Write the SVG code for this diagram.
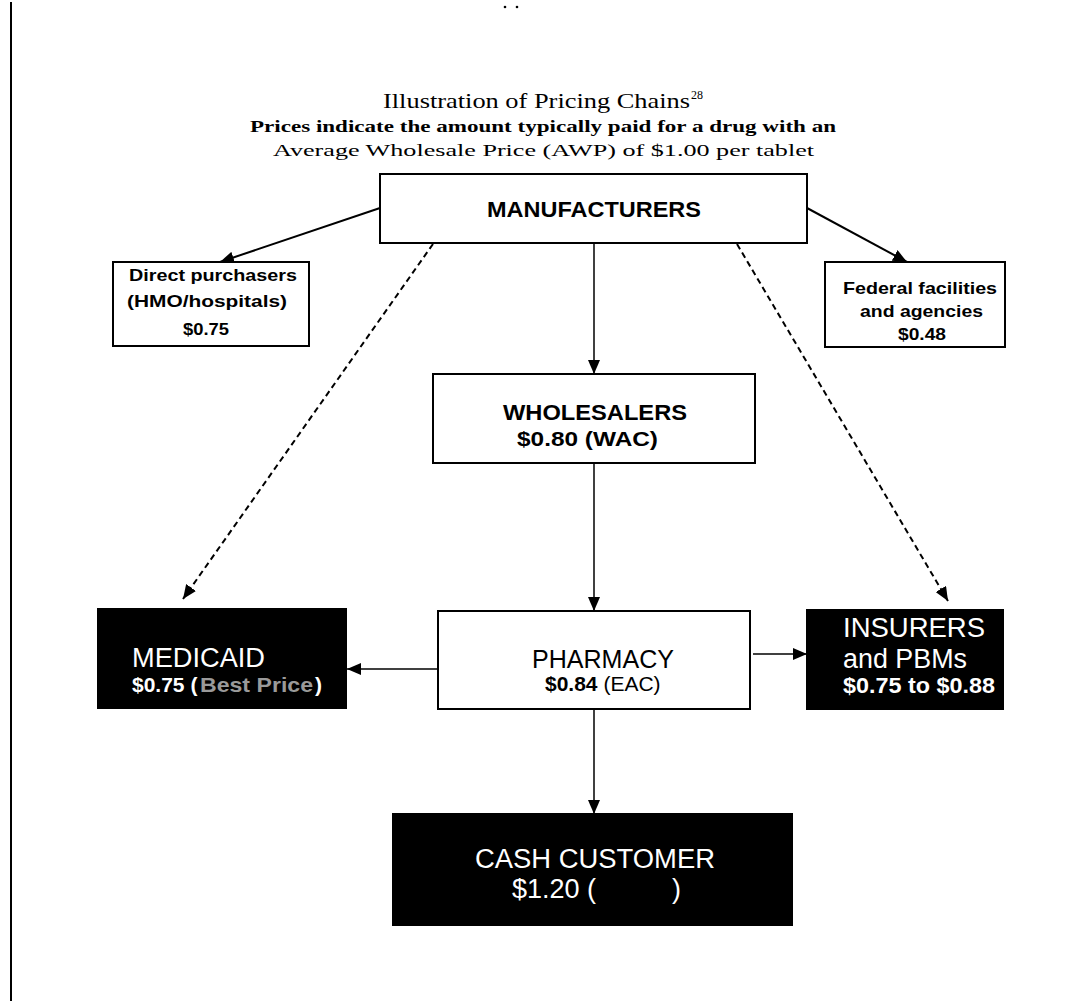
<svg xmlns="http://www.w3.org/2000/svg" width="1086" height="1001" viewBox="0 0 1086 1001">
<defs>
<style>
.box{fill:#fff;stroke:#000;stroke-width:2}
.dark{fill:#000;stroke:#000;stroke-width:2}
.sans{font-family:"Liberation Sans",Arial,sans-serif}
.serif{font-family:"Liberation Serif","DejaVu Serif",serif;fill:#000}
.b{font-weight:bold}
.w{fill:#fff}
.k{fill:#000}
.line{stroke:#000;fill:none}
.dash{stroke:#000;fill:none;stroke-width:2;stroke-dasharray:6 4}
</style>
<marker id="ah" viewBox="0 0 14 12" refX="14" refY="6" markerWidth="14" markerHeight="12" orient="auto" markerUnits="userSpaceOnUse">
<path d="M0,0 L14,6 L0,12 z" fill="#000"/>
</marker>
</defs>
<rect width="1086" height="1001" fill="#fff"/>
<line x1="11" y1="2" x2="11" y2="1001" stroke="#000" stroke-width="2"/>
<circle cx="505" cy="7" r="1.3" fill="#000"/>
<circle cx="517" cy="7" r="1.3" fill="#000"/>

<g id="title">
<text class="serif" x="383" y="108" font-size="22" textLength="307" lengthAdjust="spacingAndGlyphs">Illustration of Pricing Chains</text>
<text class="serif" x="691" y="99" font-size="12">28</text>
<text class="serif b" x="250" y="132" font-size="17" textLength="586" lengthAdjust="spacingAndGlyphs">Prices indicate the amount typically paid for a drug with an</text>
<text class="serif" x="273" y="156" font-size="17" textLength="541" lengthAdjust="spacingAndGlyphs">Average Wholesale Price (AWP) of $1.00 per tablet</text>
</g>

<g id="connectors">
<line class="line" stroke-width="2" x1="380" y1="208" x2="220" y2="262" marker-end="url(#ah)"/>
<line class="line" stroke-width="2" x1="807" y1="208" x2="907" y2="262" marker-end="url(#ah)"/>
<line class="line" stroke-width="1.5" x1="594" y1="243" x2="594" y2="374" marker-end="url(#ah)"/>
<line class="line" stroke-width="1.5" x1="594" y1="463" x2="594" y2="611" marker-end="url(#ah)"/>
<line class="line" stroke-width="1.5" x1="437" y1="669" x2="347" y2="669" marker-end="url(#ah)"/>
<line class="line" stroke-width="1.5" x1="753" y1="654" x2="807" y2="654" marker-end="url(#ah)"/>
<line class="line" stroke-width="1.5" x1="594" y1="709" x2="594" y2="814" marker-end="url(#ah)"/>
<line class="dash" x1="433" y1="244" x2="183" y2="599" marker-end="url(#ah)"/>
<line class="dash" x1="737" y1="244" x2="948" y2="601" marker-end="url(#ah)"/>
</g>

<g id="manufacturers">
<rect class="box" x="380" y="174" width="427" height="69"/>
<text class="sans b" x="487" y="217" font-size="22" textLength="214" lengthAdjust="spacingAndGlyphs">MANUFACTURERS</text>
</g>

<g id="direct-purchasers">
<rect class="box" x="113" y="262" width="196" height="84"/>
<text class="sans b" x="129" y="281" font-size="17" textLength="168" lengthAdjust="spacingAndGlyphs">Direct purchasers</text>
<text class="sans b" x="127" y="307" font-size="17" textLength="160" lengthAdjust="spacingAndGlyphs">(HMO/hospitals)</text>
<text class="sans b" x="183" y="335" font-size="17" textLength="46" lengthAdjust="spacingAndGlyphs">$0.75</text>
</g>

<g id="federal">
<rect class="box" x="825" y="262" width="180" height="85"/>
<text class="sans b" x="843" y="294" font-size="17" textLength="154" lengthAdjust="spacingAndGlyphs">Federal facilities</text>
<text class="sans b" x="860" y="317" font-size="17" textLength="123" lengthAdjust="spacingAndGlyphs">and agencies</text>
<text class="sans b" x="898" y="340" font-size="17" textLength="48" lengthAdjust="spacingAndGlyphs">$0.48</text>
</g>

<g id="wholesalers">
<rect class="box" x="433" y="374" width="322" height="89"/>
<text class="sans b" x="503" y="420" font-size="22" textLength="184" lengthAdjust="spacingAndGlyphs">WHOLESALERS</text>
<text class="sans b" x="517" y="446" font-size="21" textLength="141" lengthAdjust="spacingAndGlyphs">$0.80 (WAC)</text>
</g>

<g id="pharmacy">
<rect class="box" x="438" y="611" width="312" height="98"/>
<text class="sans" x="532" y="668" font-size="25" textLength="142" lengthAdjust="spacingAndGlyphs">PHARMACY</text>
<text class="sans" x="545" y="691" font-size="21"><tspan class="b">$0.84</tspan> (EAC)</text>
</g>

<g id="medicaid">
<rect class="dark" x="98" y="609" width="248" height="99"/>
<text class="sans w" x="132" y="667" font-size="27" textLength="133" lengthAdjust="spacingAndGlyphs">MEDICAID</text>
<text class="sans b w" x="132" y="692" font-size="21">$0.75 (</text>
<text class="sans b" x="200" y="692" font-size="21" fill="#9a9a9a" textLength="113" lengthAdjust="spacingAndGlyphs">Best Price</text>
<text class="sans b w" x="315" y="692" font-size="21">)</text>
</g>

<g id="insurers">
<rect class="dark" x="807" y="610" width="196" height="99"/>
<text class="sans w" x="843" y="637" font-size="27" textLength="142" lengthAdjust="spacingAndGlyphs">INSURERS</text>
<text class="sans w" x="843" y="668" font-size="27" textLength="124" lengthAdjust="spacingAndGlyphs">and PBMs</text>
<text class="sans b w" x="843" y="693" font-size="22" textLength="152" lengthAdjust="spacingAndGlyphs">$0.75 to $0.88</text>
</g>

<g id="cash-customer">
<rect class="dark" x="393" y="814" width="399" height="111"/>
<text class="sans w" x="475" y="868" font-size="27" textLength="240" lengthAdjust="spacingAndGlyphs">CASH CUSTOMER</text>
<text class="sans w" x="512" y="898" font-size="27">$1.20 (</text>
<text class="sans w" x="672" y="898" font-size="27">)</text>
</g>
</svg>
